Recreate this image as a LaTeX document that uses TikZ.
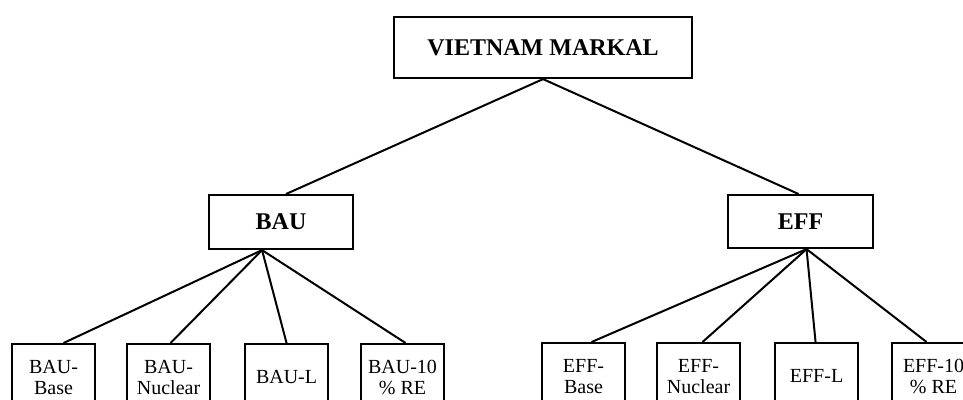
\documentclass[tikz,border=0pt]{standalone}
\usepackage{fontspec}
\setmainfont{Liberation Serif}
\usetikzlibrary{calc}

\tikzset{
  box/.style={draw=black, line width=2.1pt, fill=white, inner sep=0pt,
              anchor=north west, align=center},
  headbox/.style={box, font=\fontsize{24}{28}\selectfont\bfseries},
  leafbox/.style={box, minimum width=83pt, minimum height=66pt,
                  font=\fontsize{20}{21}\selectfont},
  link/.style={draw=black, line width=2pt}
}

\begin{document}
\begin{tikzpicture}[x=1pt, y=-1pt]
  \useasboundingbox (0,0) rectangle (963,399);
  \clip (0,0) rectangle (963,399);

  % root and the two scenario families
  \node[headbox, minimum width=298pt, minimum height=61pt] (root) at (393,16) {VIETNAM MARKAL};
  \node[headbox, minimum width=144pt, minimum height=54pt] (bau) at (208,194) {BAU};
  \node[headbox, minimum width=145pt, minimum height=53pt] (eff) at (727,194) {EFF};

  % BAU variants
  \node[leafbox] (baubase) at (11,343)  {BAU-\\Base};
  \node[leafbox] (baunuc)  at (126,343) {BAU-\\Nuclear};
  \node[leafbox] (baul)    at (244,343) {BAU-L};
  \node[leafbox] (bauten)  at (360,343) {BAU-10\\\% RE};

  % EFF variants
  \node[leafbox] (effbase) at (541,342) {EFF-\\Base};
  \node[leafbox] (effnuc)  at (656,342) {EFF-\\Nuclear};
  \node[leafbox] (effl)    at (774,342) {EFF-L};
  \node[leafbox] (eften)   at (891,342) {EFF-10\\\% RE};

  % branching points under the family boxes
  \coordinate (bauhub) at ($(bau.south)+(-19,0)$);
  \coordinate (effhub) at ($(eff.south)+(6,0)$);

  % connectors
  \path[link] (root.south) -- ($(bau.north)+(5,0)$);
  \path[link] (root.south) -- ($(eff.north)+(-2,0)$);

  \path[link] (bauhub) -- ($(baubase.north)+(10,0)$);
  \path[link] (bauhub) -- ($(baunuc.north)+(2,0)$);
  \path[link] (bauhub) -- (baul.north);
  \path[link] (bauhub) -- ($(bauten.north)+(3,0)$);

  \path[link] (effhub) -- ($(effbase.north)+(8,0)$);
  \path[link] (effhub) -- ($(effnuc.north)+(4,0)$);
  \path[link] (effhub) -- ($(effl.north)+(-1,0)$);
  \path[link] (effhub) -- ($(eften.north)+(-7,0)$);
\end{tikzpicture}
\end{document}
